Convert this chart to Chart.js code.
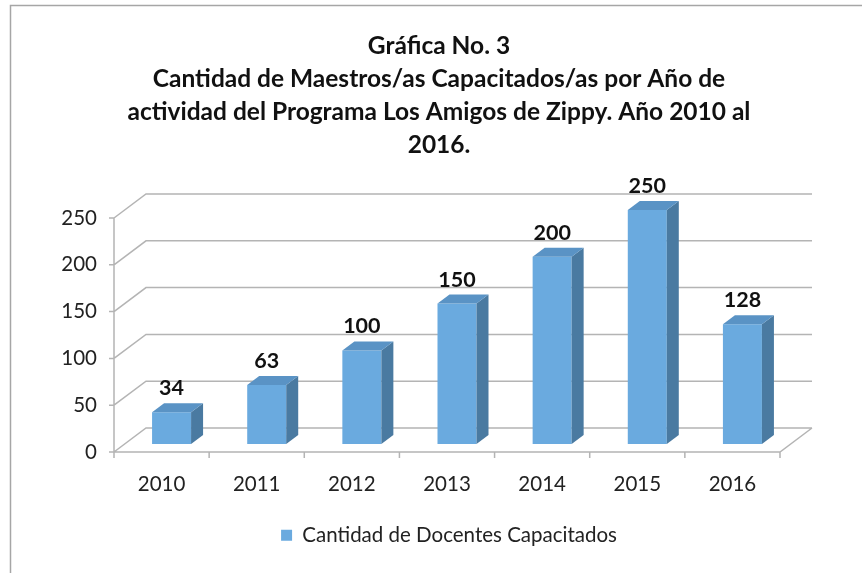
<!DOCTYPE html>
<html>
<head>
<meta charset="utf-8">
<script src="https://cdn.jsdelivr.net/npm/chart.js@4"></script>
<style>
  html, body { margin: 0; padding: 0; background: #ffffff; }
  #caja { width: 862px; height: 573px; }
</style>
</head>
<body>
<div id="caja"><canvas id="grafico" width="862" height="573"></canvas></div>
<script>
const anios = ["2010", "2011", "2012", "2013", "2014", "2015", "2016"];
const docentes = [34, 63, 100, 150, 200, 250, 128];
const marcasY = [0, 50, 100, 150, 200, 250];
const titulo = [
    "Gráfica No. 3",
    "Cantidad de Maestros/as Capacitados/as por Año de",
    "actividad del Programa Los Amigos de Zippy. Año 2010 al",
    "2016."
];
const nombreSerie = "Cantidad de Docentes Capacitados";

const FUENTE = "Lato, 'Open Sans', sans-serif";
const AZUL = "#6aaadf";      // cara frontal
const AZUL_LADO = "#4a7aa1"; // cara lateral
const AZUL_TECHO = "#5a93c5"; // cara superior
const GRIS = "#b4b4b4";

// desplazamientos de la perspectiva (respecto al plano de las barras)
const FRENTE = { dx: -10, dy: 8 };
const FONDO = { dx: 22, dy: -16 };
const PROF = { dx: 12, dy: -9 };

const marco3d = {
    id: "marco3d",
    beforeDraw(chart) {
        const c = chart.ctx;
        c.save();
        c.fillStyle = "#ffffff";
        c.fillRect(0, 0, chart.width, chart.height);
        c.strokeStyle = "#a6a6a6";
        c.lineWidth = 1.5;
        c.beginPath();
        c.moveTo(10.5, chart.height);
        c.lineTo(10.5, 5.5);
        c.lineTo(chart.width, 5.5);
        c.stroke();
        c.restore();
    },
    beforeDatasetsDraw(chart) {
        const c = chart.ctx;
        const { left, right } = chart.chartArea;
        const ys = chart.scales.y;
        const xs = chart.scales.x;
        c.save();
        c.strokeStyle = GRIS;
        c.lineWidth = 1.5;
        c.beginPath();
        // paredes: lineas de la grilla
        marcasY.forEach(v => {
            const y = ys.getPixelForValue(v);
            c.moveTo(left + FRENTE.dx, y + FRENTE.dy);
            c.lineTo(left + FONDO.dx, y + FONDO.dy);
            c.lineTo(right + FONDO.dx, y + FONDO.dy);
            // marca del eje
            c.moveTo(left + FRENTE.dx - 5, y + FRENTE.dy);
            c.lineTo(left + FRENTE.dx, y + FRENTE.dy);
        });
        const y0 = ys.getPixelForValue(0);
        const yTop = ys.getPixelForValue(marcasY[marcasY.length - 1]);
        // eje vertical frontal
        c.moveTo(left + FRENTE.dx, yTop + FRENTE.dy);
        c.lineTo(left + FRENTE.dx, y0 + FRENTE.dy);
        // piso frontal y diagonal derecha
        c.moveTo(left + FRENTE.dx, y0 + FRENTE.dy);
        c.lineTo(right + FRENTE.dx, y0 + FRENTE.dy);
        c.lineTo(right + FONDO.dx, y0 + FONDO.dy);
        // marcas del eje x
        const paso = xs.getPixelForValue(1) - xs.getPixelForValue(0);
        for (let i = 0; i <= anios.length; i++) {
            const x = xs.getPixelForValue(0) - paso / 2 + i * paso + FRENTE.dx;
            c.moveTo(x, y0 + FRENTE.dy);
            c.lineTo(x, y0 + FRENTE.dy + 6);
        }
        c.stroke();
        c.restore();
    },
    afterDatasetsDraw(chart) {
        const c = chart.ctx;
        const meta = chart.getDatasetMeta(0);
        c.save();
        meta.data.forEach((bar, i) => {
            const p = bar.getProps(["x", "y", "width", "base"], true);
            const l = p.x - p.width / 2;
            const r = p.x + p.width / 2;
            // cara lateral
            c.fillStyle = AZUL_LADO;
            c.beginPath();
            c.moveTo(r, p.y);
            c.lineTo(r + PROF.dx, p.y + PROF.dy);
            c.lineTo(r + PROF.dx, p.base + PROF.dy);
            c.lineTo(r, p.base);
            c.closePath();
            c.fill();
            // cara superior
            c.fillStyle = AZUL_TECHO;
            c.beginPath();
            c.moveTo(l, p.y);
            c.lineTo(l + PROF.dx, p.y + PROF.dy);
            c.lineTo(r + PROF.dx, p.y + PROF.dy);
            c.lineTo(r, p.y);
            c.closePath();
            c.fill();
            // etiqueta de valor
            c.fillStyle = "#111111";
            c.font = "bold 21.5px " + FUENTE;
            c.textAlign = "center";
            c.textBaseline = "middle";
            c.fillText(String(docentes[i]), p.x, p.y + PROF.dy - 15);
        });
        c.restore();
    },
    afterDraw(chart) {
        // titulo de varias lineas
        const c = chart.ctx;
        c.save();
        c.fillStyle = "#111111";
        c.font = "bold 24.5px " + FUENTE;
        c.textAlign = "center";
        c.textBaseline = "middle";
        titulo.forEach((t, i) => c.fillText(t, 439, 46 + i * 33));
        c.restore();
    }
};

new Chart(document.getElementById("grafico").getContext("2d"), {
    type: "bar",
    data: {
        labels: anios,
        datasets: [{
            label: nombreSerie,
            data: docentes,
            backgroundColor: AZUL,
            borderWidth: 0,
            categoryPercentage: 1,
            barPercentage: 0.41
        }]
    },
    options: {
        responsive: false,
        animation: false,
        layout: { padding: { left: 50, right: 14, top: 210, bottom: 17.5 } },
        plugins: {
            title: { display: false },
            legend: {
                position: "bottom",
                labels: {
                    color: "#222222",
                    font: { family: FUENTE, size: 20.5 },
                    boxWidth: 11,
                    boxHeight: 11,
                    padding: 11
                }
            },
            tooltip: { enabled: false }
        },
        scales: {
            x: {
                grid: { display: false, drawTicks: false },
                border: { display: false },
                ticks: {
                    color: "#222222",
                    font: { family: FUENTE, size: 20.5 },
                    padding: 28,
                    labelOffset: -10
                },
                afterFit: s => { s.height = 70; }
            },
            y: {
                min: 0,
                max: 250,
                grid: { display: false, drawTicks: false },
                border: { display: false },
                ticks: {
                    color: "#222222",
                    font: { family: FUENTE, size: 20.5 },
                    padding: 27,
                    labelOffset: 8
                },
                afterBuildTicks: s => { s.ticks = marcasY.map(v => ({ value: v })); },
                afterFit: s => { s.width = 74; }
            },
            margen: {
                position: "right",
                display: true,
                grid: { display: false, drawTicks: false },
                border: { display: false },
                ticks: { display: false },
                afterFit: s => { s.width = 58; }
            }
        }
    },
    plugins: [marco3d]
});
</script>
</body>
</html>
